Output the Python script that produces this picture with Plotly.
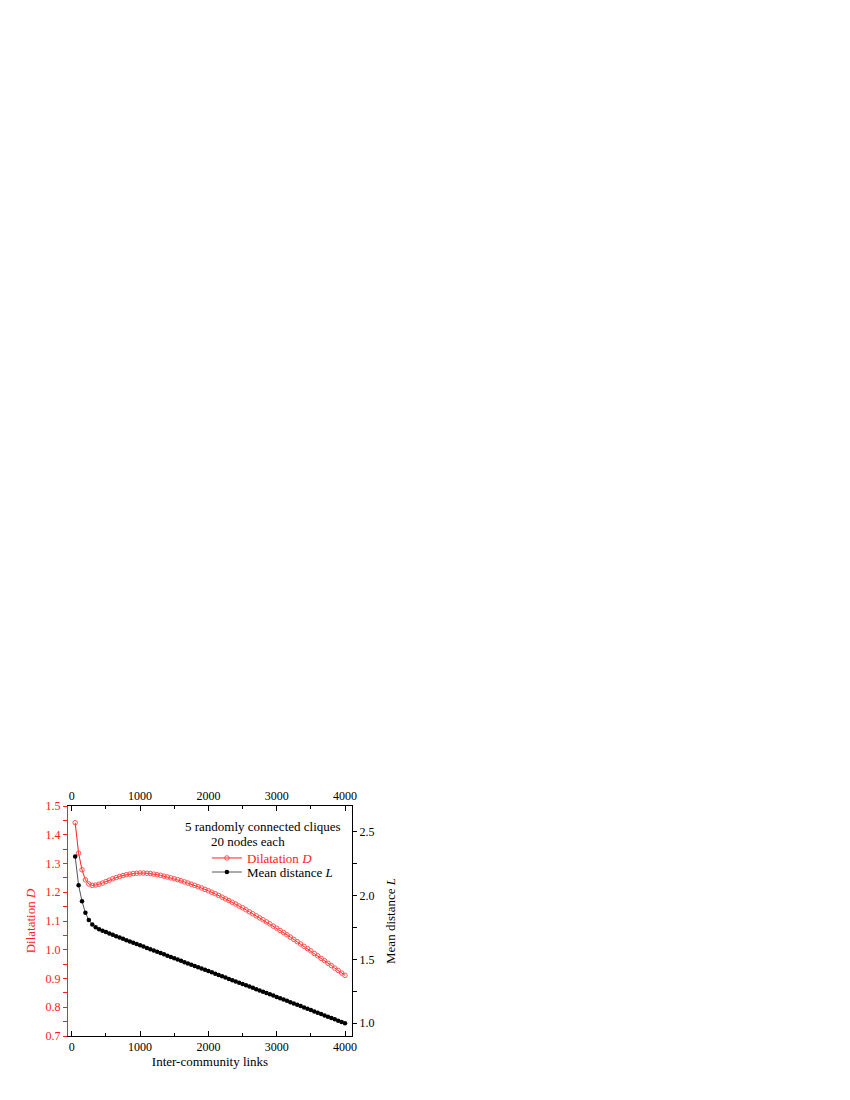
import plotly.graph_objects as go

links = list(range(50, 4001, 50))

dilatation = [
    1.442, 1.336, 1.278, 1.243, 1.229, 1.224, 1.225, 1.228, 1.232, 1.237,
    1.242, 1.247, 1.251, 1.255, 1.258, 1.261, 1.263, 1.265, 1.266, 1.267,
    1.267, 1.266, 1.265, 1.263, 1.261, 1.259, 1.256, 1.253, 1.250, 1.247,
    1.244, 1.240, 1.236, 1.232, 1.228, 1.224, 1.219, 1.215, 1.210, 1.205,
    1.200, 1.195, 1.189, 1.183, 1.177, 1.171, 1.165, 1.159, 1.152, 1.146,
    1.139, 1.132, 1.125, 1.118, 1.111, 1.104, 1.097, 1.090, 1.082, 1.075,
    1.067, 1.060, 1.052, 1.044, 1.036, 1.028, 1.020, 1.012, 1.004, 0.996,
    0.987, 0.979, 0.970, 0.962, 0.953, 0.945, 0.936, 0.928, 0.919, 0.911,
]

mean_distance = [
    2.305, 2.080, 1.955, 1.864, 1.808, 1.773, 1.751, 1.736, 1.723, 1.713,
    1.702, 1.692, 1.681, 1.671, 1.661, 1.650, 1.640, 1.630, 1.620, 1.610,
    1.600, 1.589, 1.579, 1.569, 1.559, 1.549, 1.539, 1.529, 1.519, 1.508,
    1.498, 1.488, 1.478, 1.468, 1.458, 1.448, 1.438, 1.428, 1.418, 1.408,
    1.398, 1.388, 1.377, 1.367, 1.357, 1.347, 1.337, 1.327, 1.317, 1.307,
    1.297, 1.287, 1.277, 1.266, 1.256, 1.246, 1.236, 1.226, 1.216, 1.205,
    1.195, 1.185, 1.175, 1.164, 1.154, 1.144, 1.134, 1.123, 1.113, 1.103,
    1.092, 1.082, 1.072, 1.061, 1.051, 1.041, 1.031, 1.020, 1.010, 1.000,
]

x_ticks = [0, 1000, 2000, 3000, 4000]
left_ticks = [0.7, 0.8, 0.9, 1.0, 1.1, 1.2, 1.3, 1.4, 1.5]
right_ticks = [1.0, 1.5, 2.0, 2.5]

FONT = "Liberation Serif"
RED = "#ff2020"
TXT = 13

fig = go.Figure()

fig.add_trace(go.Scatter(
    x=links, y=dilatation, mode="lines+markers",
    name="<span style='color:#ff2020'>Dilatation <i>D</i></span>",
    line=dict(color=RED, width=1),
    marker=dict(symbol="circle-open", size=4.5, color="#ff5050", line=dict(width=1)),
    xaxis="x", yaxis="y", legend="legend",
))
fig.add_trace(go.Scatter(
    x=links, y=mean_distance, mode="lines+markers",
    name="Mean distance <i>L</i>",
    line=dict(color="#555555", width=1),
    marker=dict(symbol="circle", size=4.5, color="black"),
    xaxis="x", yaxis="y2", legend="legend2",
))
# invisible trace to anchor the top axis
fig.add_trace(go.Scatter(
    x=[x_ticks[0], x_ticks[-1]], y=[left_ticks[0], left_ticks[0]],
    mode="markers", marker=dict(opacity=0), showlegend=False,
    hoverinfo="skip", xaxis="x2", yaxis="y",
))

xr = [-55, 4102]
common_x = dict(
    range=xr, tickvals=x_ticks, ticktext=[str(v) for v in x_ticks],
    ticks="inside", ticklen=5, tickwidth=1, tickcolor="black",
    minor=dict(tickvals=[500, 1500, 2500, 3500], ticks="inside", ticklen=3, tickcolor="black"),
    showline=True, linecolor="black", linewidth=1, showgrid=False, zeroline=False,
    tickfont=dict(family=FONT, size=12, color="black"),
)

legend_common = dict(
    xanchor="left", yanchor="top", bgcolor="rgba(0,0,0,0)",
    font=dict(family=FONT, size=TXT), itemwidth=30, tracegroupgap=0,
)

fig.update_layout(
    width=850, height=1100,
    margin=dict(l=60, r=506, t=798, b=72, autoexpand=False),
    paper_bgcolor="white", plot_bgcolor="white",
    font=dict(family=FONT, size=12, color="black"),
    xaxis=dict(
        **common_x,
        title=dict(text="Inter-community links", font=dict(family=FONT, size=TXT), standoff=1),
    ),
    xaxis2=dict(**common_x, overlaying="x", side="top", anchor="y"),
    yaxis=dict(
        range=[0.7, 1.5], tickvals=left_ticks, ticktext=[f"{v:.1f}" for v in left_ticks],
        ticks="outside", ticklen=4, tickwidth=1, tickcolor=RED,
        minor=dict(dtick=0.05, ticks="outside", ticklen=4, tickcolor=RED),
        showline=True, linecolor=RED, linewidth=1, showgrid=False, zeroline=False,
        tickfont=dict(family=FONT, size=12, color=RED),
        title=dict(text="Dilatation <i>D</i>", font=dict(family=FONT, size=TXT, color=RED), standoff=7),
    ),
    yaxis2=dict(
        range=[0.9, 2.7], overlaying="y", side="right", anchor="x",
        tickvals=right_ticks, ticktext=[f"{v:.1f}" for v in right_ticks],
        ticks="outside", ticklen=4, tickwidth=1, tickcolor="black",
        minor=dict(tickvals=[1.25, 1.75, 2.25], ticks="outside", ticklen=4, tickcolor="black"),
        showline=True, linecolor="black", linewidth=1, showgrid=False, zeroline=False,
        tickfont=dict(family=FONT, size=12, color="black"),
        title=dict(text="Mean distance <i>L</i>", font=dict(family=FONT, size=TXT, color="black"), standoff=12),
    ),
    legend=dict(x=0.489, y=0.839, **legend_common),
    legend2=dict(x=0.489, y=0.778, **legend_common),
    showlegend=True,
    annotations=[
        dict(text="5 randomly connected cliques", x=0.687, y=0.910,
             xref="paper", yref="paper", xanchor="center", yanchor="middle",
             showarrow=False, font=dict(family=FONT, size=TXT)),
        dict(text="20 nodes each", x=0.634, y=0.845,
             xref="paper", yref="paper", xanchor="center", yanchor="middle",
             showarrow=False, font=dict(family=FONT, size=TXT)),
    ],
)

fig.write_html("out.html")
